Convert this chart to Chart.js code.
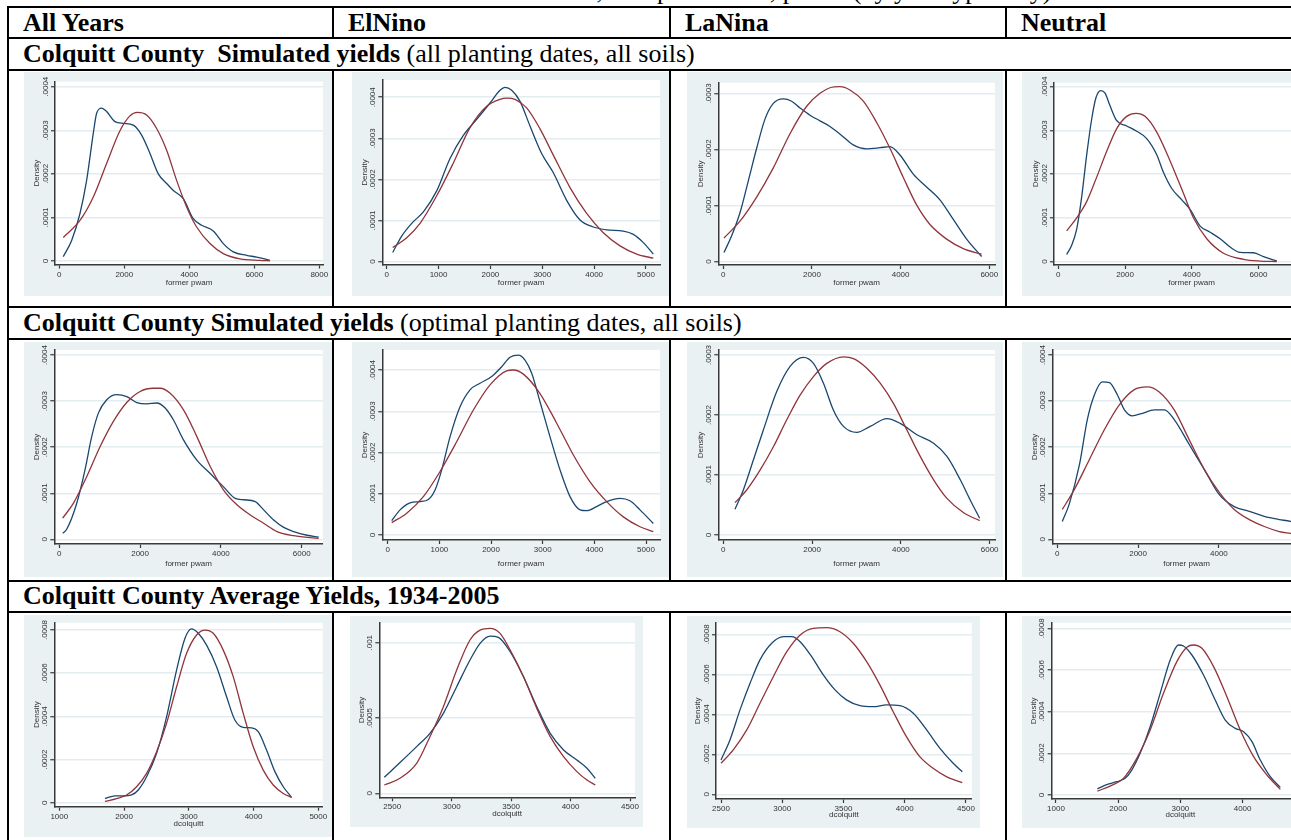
<!DOCTYPE html>
<html>
<head>
<meta charset="utf-8">
<script src="https://cdn.jsdelivr.net/npm/chart.js@4.4.0/dist/chart.umd.min.js"></script>
<style>
  html, body { margin: 0; padding: 0; width: 1291px; height: 840px; overflow: hidden; background: #fff; }
  #page { position: relative; width: 1291px; height: 840px; overflow: hidden; }
  .hl { position: absolute; left: 7px; width: 1300px; height: 2px; background: #000; }
  .vl { position: absolute; width: 2px; background: #000; }
  .cell { position: absolute; height: 30px; line-height: 30px; white-space: pre;
          font-family: "Liberation Serif", "Times New Roman", serif; font-size: 26px; color: #000; }
  .b { font-weight: bold; }
  canvas { position: absolute; }
</style>
</head>
<body>
<div id="page">
  <div class="cell" style="left:530px;top:-24px;">Yields, except as noted, pwam (by year type only)</div>

  <div class="hl" style="top:6px"></div>
  <div class="hl" style="top:37px"></div>
  <div class="hl" style="top:69px"></div>
  <div class="hl" style="top:306px"></div>
  <div class="hl" style="top:338px"></div>
  <div class="hl" style="top:580px"></div>
  <div class="hl" style="top:611px"></div>

  <div class="vl" style="left:7px;top:6px;height:840px"></div>
  <div class="vl" style="left:332px;top:6px;height:33px"></div>
  <div class="vl" style="left:669px;top:6px;height:33px"></div>
  <div class="vl" style="left:1005px;top:6px;height:33px"></div>
  <div class="vl" style="left:332px;top:69px;height:239px"></div>
  <div class="vl" style="left:669px;top:69px;height:239px"></div>
  <div class="vl" style="left:1005px;top:69px;height:239px"></div>
  <div class="vl" style="left:332px;top:338px;height:244px"></div>
  <div class="vl" style="left:669px;top:338px;height:244px"></div>
  <div class="vl" style="left:1005px;top:338px;height:244px"></div>
  <div class="vl" style="left:332px;top:611px;height:240px"></div>
  <div class="vl" style="left:669px;top:611px;height:240px"></div>
  <div class="vl" style="left:1005px;top:611px;height:240px"></div>

  <div class="cell b" style="left:23px;top:8px">All Years</div>
  <div class="cell b" style="left:348px;top:8px">ElNino</div>
  <div class="cell b" style="left:685px;top:8px">LaNina</div>
  <div class="cell b" style="left:1021px;top:8px">Neutral</div>

  <div class="cell" style="left:23px;top:39px"><span class="b">Colquitt County  Simulated yields</span> (all planting dates, all soils)</div>
  <div class="cell" style="left:23px;top:308px"><span class="b">Colquitt County Simulated yields</span> (optimal planting dates, all soils)</div>
  <div class="cell" style="left:23px;top:581px"><span class="b">Colquitt County Average Yields, 1934-2005</span></div>
</div>

<script>
// ---------------------------------------------------------------
// Density estimates: [yield, density]; densities listed in units of 1e-4
// "Kernel" = kernel density of yields, "Normal" = fitted normal density
// ---------------------------------------------------------------

// Simulated yields, all planting dates, all soils
const allYearsSimAllKernel = [[123,0.10],[380,0.47],[636,1.09],[841,1.85],[1046,2.93],[1149,3.39],[1303,3.51],[1456,3.43],[1713,3.20],[1969,3.16],[2277,3.12],[2533,2.89],[2790,2.47],[3046,2.00],[3303,1.78],[3508,1.62],[3815,1.43],[4123,0.97],[4380,0.82],[4738,0.69],[5046,0.40],[5354,0.21],[5764,0.13],[6072,0.09],[6482,0.015]];
const allYearsSimAllNormal = [[123,0.54],[636,0.93],[1046,1.47],[1456,2.24],[1867,2.99],[2174,3.33],[2400,3.41],[2687,3.35],[2995,3.04],[3303,2.54],[3610,1.85],[3918,1.24],[4226,0.78],[4636,0.40],[5046,0.17],[5559,0.05],[6174,0.015],[6482,0.005]];
const elNinoSimAllKernel = [[116,0.22],[289,0.62],[482,0.93],[707,1.21],[964,1.72],[1221,2.51],[1478,3.07],[1735,3.46],[1992,3.86],[2185,4.17],[2281,4.24],[2410,4.17],[2571,3.90],[2763,3.30],[2988,2.63],[3213,2.16],[3470,1.49],[3728,1.01],[3985,0.84],[4242,0.77],[4563,0.74],[4756,0.66],[4949,0.46],[5141,0.18]];
const elNinoSimAllNormal = [[116,0.34],[386,0.58],[643,0.93],[964,1.60],[1285,2.40],[1607,3.26],[1928,3.78],[2185,3.95],[2314,3.98],[2474,3.95],[2699,3.74],[2956,3.23],[3213,2.59],[3535,1.80],[3856,1.17],[4177,0.70],[4499,0.38],[4820,0.18],[5141,0.08]];
const laNinaSimAllKernel = [[15,0.16],[188,0.46],[376,0.87],[564,1.44],[752,2.02],[940,2.54],[1128,2.82],[1353,2.90],[1541,2.86],[1729,2.74],[1955,2.61],[2180,2.51],[2406,2.41],[2669,2.25],[2932,2.08],[3233,2.01],[3534,2.03],[3759,2.05],[3985,1.90],[4286,1.56],[4586,1.33],[4887,1.10],[5188,0.75],[5489,0.40],[5827,0.09]];
const laNinaSimAllNormal = [[15,0.42],[376,0.72],[752,1.15],[1128,1.67],[1504,2.28],[1880,2.77],[2180,3.00],[2406,3.10],[2632,3.12],[2857,3.06],[3158,2.86],[3459,2.48],[3759,2.02],[4060,1.50],[4361,1.01],[4662,0.66],[5038,0.40],[5414,0.23],[5827,0.13]];
const neutralSimAllKernel = [[250,0.16],[400,0.37],[550,0.74],[700,1.48],[850,2.44],[1000,3.26],[1130,3.75],[1270,3.91],[1400,3.85],[1550,3.56],[1750,3.22],[2050,3.10],[2350,2.98],[2650,2.81],[2950,2.44],[3150,2.04],[3400,1.67],[3700,1.41],[3950,1.19],[4250,0.81],[4550,0.67],[4850,0.52],[5150,0.33],[5450,0.21],[5850,0.20],[6150,0.11],[6550,0.01]];
const neutralSimAllNormal = [[250,0.70],[550,1.00],[850,1.37],[1150,1.93],[1450,2.52],[1750,3.04],[2050,3.32],[2330,3.39],[2600,3.32],[2950,2.96],[3350,2.30],[3750,1.56],[4050,1.00],[4450,0.52],[4950,0.19],[5550,0.05],[6050,0.01],[6550,0.0]];

// Simulated yields, optimal planting dates, all soils
const allYearsSimOptKernel = [[83,0.13],[182,0.22],[430,0.78],[636,1.51],[802,2.23],[967,2.74],[1174,3.03],[1421,3.14],[1669,3.10],[1917,2.97],[2165,2.94],[2413,2.96],[2620,2.85],[2826,2.59],[3074,2.16],[3405,1.72],[3736,1.43],[4066,1.14],[4355,0.89],[4562,0.86],[4851,0.82],[5058,0.64],[5306,0.42],[5554,0.26],[5802,0.17],[6132,0.09],[6421,0.05]];
const allYearsSimOptNormal = [[83,0.46],[347,0.78],[678,1.36],[1008,2.01],[1339,2.56],[1669,2.97],[2000,3.21],[2331,3.28],[2496,3.28],[2744,3.17],[3074,2.81],[3405,2.23],[3736,1.58],[4066,1.07],[4397,0.75],[4727,0.53],[5058,0.35],[5388,0.17],[5802,0.08],[6421,0.02]];
const elNinoSimOptKernel = [[77,0.35],[239,0.61],[432,0.78],[626,0.81],[787,0.86],[916,1.09],[1045,1.58],[1206,2.38],[1400,3.11],[1594,3.52],[1787,3.68],[2013,3.84],[2206,4.08],[2368,4.31],[2529,4.36],[2658,4.24],[2787,3.92],[2948,3.23],[3142,2.38],[3335,1.58],[3529,0.93],[3723,0.61],[3852,0.59],[4045,0.69],[4239,0.81],[4497,0.89],[4690,0.83],[4884,0.61],[5142,0.28]];
const elNinoSimOptNormal = [[77,0.30],[368,0.53],[690,0.93],[1013,1.54],[1335,2.26],[1658,3.03],[1981,3.64],[2303,3.98],[2432,4.00],[2626,3.90],[2948,3.43],[3271,2.71],[3594,1.94],[3916,1.29],[4239,0.81],[4561,0.44],[4884,0.20],[5142,0.08]];
const laNinaSimOptKernel = [[263,0.43],[451,0.75],[677,1.25],[902,1.75],[1203,2.39],[1504,2.81],[1805,2.96],[2030,2.86],[2256,2.53],[2481,2.08],[2707,1.81],[3008,1.71],[3308,1.81],[3684,1.94],[3985,1.86],[4361,1.67],[4737,1.53],[5038,1.31],[5338,0.92],[5564,0.58],[5774,0.28]];
const laNinaSimOptNormal = [[263,0.54],[526,0.75],[827,1.08],[1128,1.47],[1429,1.92],[1729,2.33],[2030,2.64],[2331,2.86],[2707,2.97],[2932,2.94],[3233,2.78],[3534,2.53],[3835,2.19],[4135,1.75],[4436,1.31],[4737,0.92],[5038,0.61],[5414,0.37],[5774,0.24]];
const neutralSimOptKernel = [[124,0.39],[293,0.76],[548,1.62],[743,2.60],[919,3.14],[1115,3.42],[1291,3.40],[1486,3.14],[1662,2.81],[1858,2.68],[2083,2.73],[2405,2.81],[2650,2.81],[2894,2.60],[3266,2.06],[3637,1.52],[4009,0.97],[4380,0.71],[4752,0.61],[5123,0.50],[5495,0.43],[5769,0.39],[6050,0.30],[6300,0.22]];
const neutralSimOptNormal = [[124,0.65],[420,1.08],[792,1.73],[1164,2.38],[1535,2.92],[1907,3.25],[2230,3.31],[2523,3.20],[2894,2.81],[3266,2.16],[3637,1.52],[4009,1.02],[4380,0.65],[4752,0.43],[5123,0.28],[5495,0.17],[5769,0.13],[6300,0.05]];

// County average yields, 1934-2005
const allYearsAvgKernel = [[1705,0.20],[1859,0.32],[1988,0.31],[2117,0.36],[2220,0.59],[2348,1.20],[2503,2.29],[2657,3.98],[2812,6.15],[2940,7.61],[3043,8.05],[3146,7.85],[3275,7.30],[3429,6.30],[3584,4.91],[3712,3.83],[3841,3.49],[3970,3.47],[4073,3.29],[4201,2.44],[4330,1.44],[4459,0.74],[4587,0.25]];
const allYearsAvgNormal = [[1705,0.06],[1885,0.19],[2040,0.36],[2194,0.74],[2348,1.36],[2503,2.36],[2657,3.68],[2812,5.37],[2966,6.92],[3120,7.77],[3249,8.00],[3378,7.85],[3532,7.07],[3686,5.84],[3841,4.14],[3995,2.59],[4150,1.51],[4304,0.82],[4459,0.43],[4587,0.25]];
const elNinoAvgKernel = [[2433,1.06],[2565,2.04],[2705,3.10],[2817,3.98],[2930,5.31],[3042,7.08],[3154,8.85],[3239,9.96],[3323,10.44],[3393,10.35],[3492,9.40],[3604,7.74],[3716,5.75],[3829,3.98],[3941,2.88],[4053,2.21],[4138,1.66],[4208,1.00]];
const elNinoAvgNormal = [[2433,0.55],[2565,1.00],[2705,1.99],[2817,3.76],[2930,5.75],[3042,8.19],[3154,10.18],[3239,10.84],[3323,10.95],[3407,10.62],[3492,9.51],[3604,7.74],[3716,5.64],[3829,3.76],[3941,2.43],[4053,1.44],[4138,0.88],[4208,0.55]];
const laNinaAvgKernel = [[2500,1.72],[2573,2.72],[2655,4.22],[2737,5.55],[2818,6.72],[2914,7.55],[3010,7.88],[3078,7.88],[3146,7.63],[3240,6.88],[3335,5.97],[3431,5.22],[3524,4.72],[3635,4.43],[3743,4.38],[3852,4.47],[3961,4.43],[4070,4.05],[4179,3.22],[4288,2.30],[4396,1.55],[4470,1.13]];
const laNinaAvgNormal = [[2500,1.55],[2600,2.22],[2710,3.22],[2818,4.55],[2927,5.88],[3037,7.13],[3146,7.97],[3254,8.30],[3362,8.33],[3471,8.13],[3580,7.55],[3689,6.63],[3797,5.47],[3906,4.13],[4014,2.88],[4123,1.88],[4232,1.30],[4340,0.88],[4470,0.58]];
const neutralAvgKernel = [[1666,0.30],[1816,0.50],[1977,0.64],[2111,0.80],[2218,1.20],[2353,2.00],[2514,3.28],[2675,4.88],[2836,6.48],[2970,7.20],[3050,7.15],[3185,6.72],[3372,5.76],[3560,4.56],[3721,3.60],[3882,3.20],[4017,3.04],[4151,2.56],[4285,1.68],[4446,0.88],[4607,0.37]];
const neutralAvgNormal = [[1666,0.19],[1870,0.43],[2084,0.80],[2299,1.76],[2514,3.12],[2728,4.88],[2943,6.40],[3104,7.09],[3211,7.20],[3346,7.04],[3534,6.16],[3748,4.72],[3963,3.12],[4178,1.84],[4392,0.96],[4607,0.27]];

// Axis ticks and their labels
const pwamTicksWide = [0, 2000, 4000, 6000, 8000];
const pwamTicksMid = [0, 2000, 4000, 6000];
const pwamTicksFine = [0, 1000, 2000, 3000, 4000, 5000];
const colquittTicksWide = [1000, 2000, 3000, 4000, 5000];
const colquittTicksFine = [2500, 3000, 3500, 4000, 4500];
const densityTicks4 = [0, 0.0001, 0.0002, 0.0003, 0.0004];
const densityLabels4 = ['0', '.0001', '.0002', '.0003', '.0004'];
const densityTicks3 = [0, 0.0001, 0.0002, 0.0003];
const densityLabels3 = ['0', '.0001', '.0002', '.0003'];
const densityTicks8 = [0, 0.0002, 0.0004, 0.0006, 0.0008];
const densityLabels8 = ['0', '.0002', '.0004', '.0006', '.0008'];
const densityTicks10 = [0, 0.0005, 0.001];
const densityLabels10 = ['0', '.0005', '.001'];
const DENSITY_UNIT = 1e-4;

// Colours and fonts
const KERNEL_COLOR = '#1A476F';
const NORMAL_COLOR = '#90353B';
const PANEL_BG = '#EAF1F3';
const GRID_COLOR = '#E3ECEF';
const AXIS_COLOR = '#3a3a3a';
const LABEL_COLOR = '#333';
const SANS = '"Liberation Sans", Arial, Helvetica, sans-serif';

// Panel frames: [left, top, width, height], axis-line positions and the plot's white region
const panels = [
  { kernel: allYearsSimAllKernel, normal: allYearsSimAllNormal, box: [24, 72, 308, 224], axisX: 55, axisY: 264.5, plotTop: 81.7, plotRight: 323,
    x: [-132, 8114], y: [-0.08, 4.115], xt: pwamTicksWide, yt: densityTicks4, yl: densityLabels4, xTitle: 'former pwam' },
  { kernel: elNinoSimAllKernel, normal: elNinoSimAllNormal, box: [352, 72, 317, 224], axisX: 382.3, axisY: 265, plotTop: 80, plotRight: 660,
    x: [-85, 5270], y: [-0.085, 4.42], xt: pwamTicksFine, yt: densityTicks4, yl: densityLabels4, xTitle: 'former pwam' },
  { kernel: laNinaSimAllKernel, normal: laNinaSimAllNormal, box: [687, 72, 316, 224], axisX: 718.3, axisY: 265, plotTop: 82.7, plotRight: 995,
    x: [-113, 6129], y: [-0.062, 3.19], xt: pwamTicksMid, yt: densityTicks3, yl: densityLabels3, xTitle: 'former pwam' },
  { kernel: neutralSimAllKernel, normal: neutralSimAllNormal, box: [1022, 72, 316, 224], axisX: 1054, axisY: 265, plotTop: 82.7, plotRight: 1329,
    x: [-130, 8114], y: [-0.08, 4.09], xt: pwamTicksWide, yt: densityTicks4, yl: densityLabels4, xTitle: 'former pwam' },

  { kernel: allYearsSimOptKernel, normal: allYearsSimOptNormal, box: [24, 342, 308, 235], axisX: 54.3, axisY: 544, plotTop: 350, plotRight: 322.7,
    x: [-124, 6520], y: [-0.10, 4.11], xt: pwamTicksMid, yt: densityTicks4, yl: densityLabels4, xTitle: 'former pwam' },
  { kernel: elNinoSimOptKernel, normal: elNinoSimOptNormal, box: [352, 342, 317, 235], axisX: 382.3, axisY: 540, plotTop: 350, plotRight: 660,
    x: [-105, 5271], y: [-0.121, 4.485], xt: pwamTicksFine, yt: densityTicks4, yl: densityLabels4, xTitle: 'former pwam' },
  { kernel: laNinaSimOptKernel, normal: laNinaSimOptNormal, box: [687, 342, 316, 235], axisX: 718.3, axisY: 540, plotTop: 350, plotRight: 995,
    x: [-113, 6120], y: [-0.083, 3.083], xt: pwamTicksMid, yt: densityTicks3, yl: densityLabels3, xTitle: 'former pwam' },
  { kernel: neutralSimOptKernel, normal: neutralSimOptNormal, box: [1022, 342, 308, 235], axisX: 1052.3, axisY: 544, plotTop: 350, plotRight: 1320.7,
    x: [-124, 6520], y: [-0.10, 4.11], xt: pwamTicksMid, yt: densityTicks4, yl: densityLabels4, xTitle: 'former pwam' },

  { kernel: allYearsAvgKernel, normal: allYearsAvgNormal, box: [24, 615, 308, 222], axisX: 54.3, axisY: 806.7, plotTop: 622.7, plotRight: 322.7,
    x: [923, 5068], y: [-0.185, 8.34], xt: colquittTicksWide, yt: densityTicks8, yl: densityLabels8, xTitle: 'dcolquitt' },
  { kernel: elNinoAvgKernel, normal: elNinoAvgNormal, box: [350, 616, 293, 211], axisX: 379.3, axisY: 797.3, plotTop: 622.7, plotRight: 635,
    x: [2391, 4542], y: [-0.266, 11.33], xt: colquittTicksFine, yt: densityTicks10, yl: densityLabels10, xTitle: 'dcolquitt' },
  { kernel: laNinaAvgKernel, normal: laNinaAvgNormal, box: [687, 616, 293, 212], axisX: 716, axisY: 799, plotTop: 622.7, plotRight: 971.7,
    x: [2459, 4547], y: [-0.235, 8.58], xt: colquittTicksFine, yt: densityTicks8, yl: densityLabels8, xTitle: 'dcolquitt' },
  { kernel: neutralAvgKernel, normal: neutralAvgNormal, box: [1022, 616, 296, 212], axisX: 1051.7, axisY: 799, plotTop: 622.7, plotRight: 1309,
    x: [931, 5068], y: [-0.19, 8.27], xt: colquittTicksWide, yt: densityTicks8, yl: densityLabels8, xTitle: 'dcolquitt' }
];

const toPoints = arr => arr.map(([x, d]) => ({ x: x, y: d * DENSITY_UNIT }));

function drawPanel(p) {
  const [left, top, w, h] = p.box;
  const canvas = document.createElement('canvas');
  canvas.width = w; canvas.height = h;
  canvas.style.left = left + 'px';
  canvas.style.top = top + 'px';
  canvas.style.width = w + 'px';
  canvas.style.height = h + 'px';
  document.getElementById('page').appendChild(canvas);

  // graph region and plot region backgrounds, rotated y labels and axis titles
  const frame = {
    id: 'frame',
    beforeDraw(chart) {
      const { ctx, chartArea: a } = chart;
      ctx.save();
      ctx.fillStyle = PANEL_BG;
      ctx.fillRect(0, 0, chart.width, chart.height);
      ctx.fillStyle = '#ffffff';
      ctx.fillRect(a.left, a.top, a.right - a.left, a.bottom - a.top);
      ctx.restore();
    },
    afterDraw(chart) {
      const { ctx, chartArea: a } = chart;
      const ys = chart.scales.y;
      ctx.save();
      ctx.fillStyle = LABEL_COLOR;
      ctx.font = '8px ' + SANS;
      ctx.textAlign = 'center';
      ctx.textBaseline = 'middle';
      p.yt.forEach((v, i) => {
        ctx.save();
        ctx.translate(a.left - 9.5, ys.getPixelForValue(v));
        ctx.rotate(-Math.PI / 2);
        ctx.fillText(p.yl[i], 0, 0);
        ctx.restore();
      });
      ctx.save();
      ctx.translate(a.left - 18, (a.top + a.bottom) / 2);
      ctx.rotate(-Math.PI / 2);
      ctx.fillText('Density', 0, 0);
      ctx.restore();
      ctx.fillText(p.xTitle, (a.left + a.right) / 2, chart.height - 13);
      ctx.restore();
    }
  };

  new Chart(canvas, {
    type: 'line',
    data: {
      datasets: [
        { data: toPoints(p.normal), borderColor: NORMAL_COLOR },
        { data: toPoints(p.kernel), borderColor: KERNEL_COLOR }
      ]
    },
    options: {
      responsive: false,
      animation: false,
      devicePixelRatio: 1,
      layout: {
        autoPadding: false,
        padding: { left: 0, bottom: 0, top: p.plotTop - top, right: left + w - p.plotRight }
      },
      plugins: { legend: { display: false }, tooltip: { enabled: false } },
      elements: {
        point: { radius: 0 },
        line: { borderWidth: 1.3, fill: false, cubicInterpolationMode: 'monotone' }
      },
      scales: {
        x: {
          type: 'linear',
          min: p.x[0], max: p.x[1],
          afterBuildTicks: s => { s.ticks = p.xt.map(v => ({ value: v })); },
          afterFit: s => { s.height = top + h - p.axisY; },
          grid: { drawOnChartArea: false, drawTicks: true, tickLength: 4, tickColor: AXIS_COLOR, tickWidth: 1.2 },
          border: { display: true, color: AXIS_COLOR, width: 1.5 },
          ticks: { font: { family: SANS, size: 8 }, color: LABEL_COLOR, padding: 1, maxRotation: 0, minRotation: 0, autoSkip: false,
                   callback: v => String(v) }
        },
        y: {
          type: 'linear',
          min: p.y[0] * DENSITY_UNIT, max: p.y[1] * DENSITY_UNIT,
          afterBuildTicks: s => { s.ticks = p.yt.map(v => ({ value: v })); },
          afterFit: s => { s.width = p.axisX - left; },
          grid: { color: GRID_COLOR, lineWidth: 1.5, drawTicks: true, tickLength: 4, tickColor: AXIS_COLOR, tickWidth: 1.2 },
          border: { display: true, color: AXIS_COLOR, width: 1.5 },
          ticks: { display: false }
        }
      }
    },
    plugins: [frame]
  });
}

panels.forEach(drawPanel);
</script>
</body>
</html>
